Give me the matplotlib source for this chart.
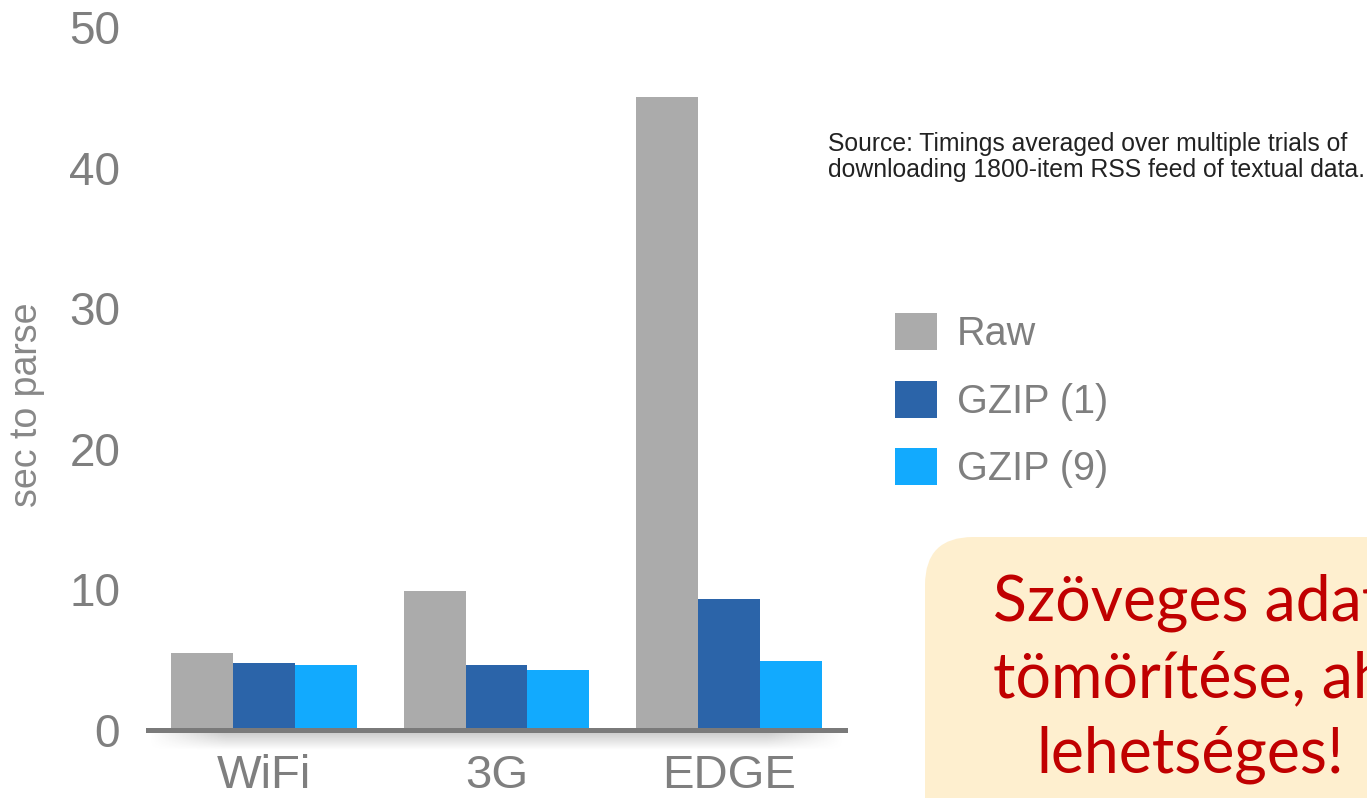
import numpy as np
import matplotlib
matplotlib.use('Agg')
import matplotlib.pyplot as plt
from matplotlib.patches import FancyBboxPatch

# data
networks = ['WiFi', '3G', 'EDGE']
series = ['Raw', 'GZIP (1)', 'GZIP (9)']
raw = [5.5, 9.9, 45.0]
gzip1 = [4.75, 4.6, 9.3]
gzip9 = [4.65, 4.3, 4.9]
colors = ['#ABABAB', '#2B64A9', '#12AAFE']
yticks = [0, 10, 20, 30, 40, 50]
note_lines = ['Szöveges adatok', 'tömörítése, ahol', 'lehetséges!']

plt.rcParams['font.family'] = ['Liberation Sans', 'DejaVu Sans']

W, H = 1367, 798
fig = plt.figure(figsize=(W / 100, H / 100), dpi=100)

# overlay axes in pixel units for the note box
bg = fig.add_axes([0, 0, 1, 1])
bg.set_xlim(0, W)
bg.set_ylim(H, 0)
bg.axis('off')

ax = fig.add_axes([148 / W, (H - 730) / H, (845 - 148) / W, (730 - 27) / H])

x = np.arange(len(networks))
w = 0.266
for i, vals in enumerate([raw, gzip1, gzip9]):
    ax.bar(x + (i - 1) * w, vals, width=w, color=colors[i], label=series[i], zorder=1)

ax.set_xlim(-0.5, 2.5)
ax.set_ylim(0, 50)
ax.set_yticks(yticks)
ax.set_xticks(x)
ax.set_xticklabels(networks)
ax.tick_params(axis='y', length=0, pad=20, labelsize=33, labelcolor='#7F7F7F')
ax.tick_params(axis='x', length=0, pad=17, labelsize=34, labelcolor='#7F7F7F')
for s in ['top', 'right', 'left']:
    ax.spines[s].set_visible(False)
ax.spines['bottom'].set_color('#7A7A7A')
ax.spines['bottom'].set_linewidth(3.6)
ax.spines['bottom'].set_zorder(3)

# soft shadow under the baseline
grad_y = np.linspace(0.45, 0.0, 30)[:, None]
grad_x = np.minimum(1, np.sin(np.linspace(0, np.pi, 200)) * 3)[None, :]
shade = np.zeros((30, 200, 4))
shade[..., :3] = 0.55
shade[..., 3] = grad_y * grad_x
ax.imshow(shade, extent=[-0.5, 2.5, -1.4, -0.15], aspect='auto', clip_on=False, zorder=0)
ax.set_ylim(0, 50)

ax.set_ylabel('sec to parse', fontsize=27, color='#888888')
ax.yaxis.set_label_coords((45 - 148) / (845 - 148), (730 - 405) / (730 - 27))

fig.text(828 / W, 1 - 157 / H, 'Source: Timings averaged over multiple trials of\n'
         'downloading 1800-item RSS feed of textual data.',
         fontsize=17.8, color='#222222', va='center', ha='left', linespacing=1.12)

leg = ax.legend(loc='upper left', bbox_to_anchor=(895 / W, 1 - 313 / H),
                bbox_transform=fig.transFigure, frameon=False, fontsize=28.5,
                handlelength=1.06, handleheight=1.06, labelspacing=0.7,
                handletextpad=0.5, borderaxespad=0, borderpad=0)
for t in leg.get_texts():
    t.set_color('#7F7F7F')

box = FancyBboxPatch((925, 537), 600, 400, boxstyle='round,pad=0,rounding_size=48',
                     facecolor='#FEEFCF', edgecolor='none')
bg.add_patch(box)
note_font = dict(fontsize=45, color='#C00000', family=['Lato', 'DejaVu Sans'], va='baseline')
bg.text(993, 620, note_lines[0], ha='left', **note_font)
bg.text(993, 697, note_lines[1], ha='left', **note_font)
bg.text(1190, 773, note_lines[2], ha='center', **note_font)

fig.savefig('out.png', dpi=100)
